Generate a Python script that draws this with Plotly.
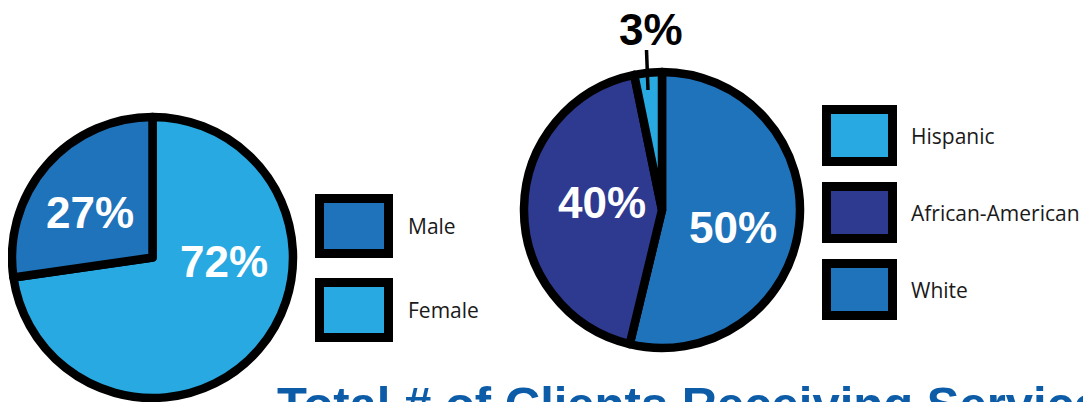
import plotly.graph_objects as go

# ---- data ----
gender_labels = ["Male", "Female"]
gender_values = [27, 72]
race_labels = ["White", "African-American", "Hispanic"]
race_values = [50, 40, 3]
legend_race_order = ["Hispanic", "African-American", "White"]
title_text = "Total # of Clients Receiving Services"

# ---- styles ----
C_DARK = "#1F73BA"
C_LIGHT = "#28A9E1"
C_NAVY = "#2E3990"
gender_colors = {"Male": C_DARK, "Female": C_LIGHT}
race_colors = {"White": C_DARK, "African-American": C_NAVY, "Hispanic": C_LIGHT}

W, H = 1091, 402
OFF = 8  # page body margin of the browser


def px(x):
    return (x - OFF) / W


def py(y):
    return 1 - (y - OFF) / H


def domain(cx, cy, r):
    return dict(x=[px(cx - r), px(cx + r)], y=[py(cy + r), py(cy - r)])


fig = go.Figure()
g_labels = gender_labels[::-1]
g_values = gender_values[::-1]
fig.add_trace(go.Pie(
    labels=g_labels, values=g_values, sort=False,
    direction="clockwise", rotation=0,
    marker=dict(colors=[gender_colors[l] for l in g_labels],
                line=dict(color="black", width=8.5)),
    textinfo="none", showlegend=False,
    domain=domain(152.5, 257.5, 140.5),
))
fig.add_trace(go.Pie(
    labels=race_labels, values=race_values, sort=False,
    direction="clockwise", rotation=0,
    marker=dict(colors=[race_colors[l] for l in race_labels],
                line=dict(color="black", width=8.5)),
    textinfo="none", showlegend=False,
    domain=domain(662, 210, 138),
))

annotations = []
shapes = []
big = dict(family="Liberation Sans, Arial, sans-serif", size=44, color="white", weight="bold")

# percentage labels (text from data)
gpos = {"Male": (90, 213), "Female": (223.5, 261)}
for lab, v in zip(gender_labels, gender_values):
    x, y = gpos[lab]
    annotations.append(dict(x=px(x), y=py(y), xref="paper", yref="paper", text=f"{v}%",
                            showarrow=False, font=big, xanchor="center", yanchor="middle"))
rpos = {"White": (733, 228), "African-American": (602, 203), "Hispanic": (651, 29)}
for lab, v in zip(race_labels, race_values):
    x, y = rpos[lab]
    f = dict(big)
    if lab == "Hispanic":
        f["color"] = "black"
    annotations.append(dict(x=px(x), y=py(y), xref="paper", yref="paper", text=f"{v}%",
                            showarrow=False, font=f, xanchor="center", yanchor="middle"))
# leader line for small slice
shapes.append(dict(type="line", xref="paper", yref="paper", x0=px(646.5), y0=py(50),
                   x1=px(648), y1=py(90), line=dict(color="black", width=3.5)))

# custom legends
leg_font = dict(family="Open Sans, Noto Sans, sans-serif", size=21, color="#1a1a1a")


def legend_item(x0, y0, w, h, color, text, tx):
    b = 9
    shapes.append(dict(type="rect", xref="paper", yref="paper",
                       x0=px(x0 + b / 2), x1=px(x0 + w - b / 2),
                       y0=py(y0 + b / 2), y1=py(y0 + h - b / 2),
                       fillcolor=color, line=dict(color="black", width=b)))
    annotations.append(dict(x=px(tx), y=py(y0 + h / 2), xref="paper", yref="paper", text=text,
                            showarrow=False, font=leg_font, xanchor="left", yanchor="middle"))


for i, lab in enumerate(gender_labels):
    legend_item(315, 194 + 84 * i, 78, 64, gender_colors[lab], lab, 406)
for i, lab in enumerate(legend_race_order):
    legend_item(822, 105 + 77 * i, 75, 61, race_colors[lab], lab, 909)

# title (cut off at bottom as in the original)
annotations.append(dict(x=px(275), y=py(375), xref="paper", yref="paper", text=title_text,
                        showarrow=False, xanchor="left", yanchor="top",
                        font=dict(family="Liberation Sans, Arial, sans-serif", size=49,
                                  color="#0D5CA8", weight="bold")))

fig.update_layout(width=W, height=H, margin=dict(l=0, r=0, t=0, b=0),
                  paper_bgcolor="white", plot_bgcolor="white",
                  annotations=annotations, shapes=shapes)
fig.write_html("out.html")
